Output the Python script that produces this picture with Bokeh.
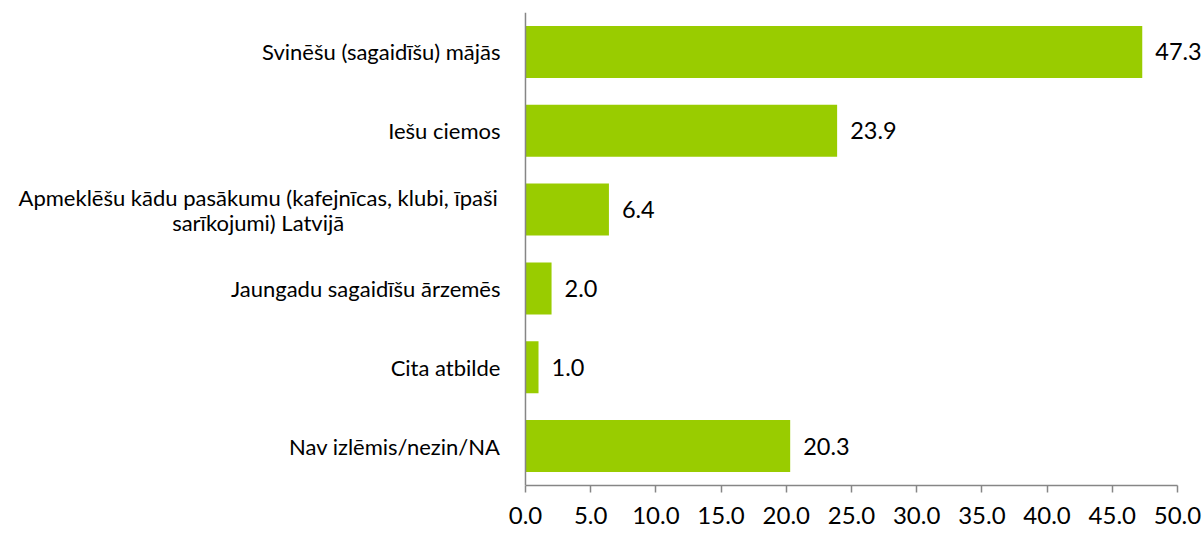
from bokeh.plotting import figure
from bokeh.models import ColumnDataSource, FactorRange, Range1d, FixedTicker, CustomJSTickFormatter, Span
from bokeh.core.properties import value
from bokeh.embed import file_html
from bokeh.resources import INLINE

categories = [
    "Svinēšu (sagaidīšu) mājās",
    "Iešu ciemos",
    "Apmeklēšu kādu pasākumu (kafejnīcas, klubi, īpaši\nsarīkojumi) Latvijā",
    "Jaungadu sagaidīšu ārzemēs",
    "Cita atbilde",
    "Nav izlēmis/nezin/NA",
]
values = [47.3, 23.9, 6.4, 2.0, 1.0, 20.3]
x_ticks = [0, 5, 10, 15, 20, 25, 30, 35, 40, 45, 50]

FONT = "Lato"
GREEN = "#99CC00"
AXIS = "#868686"

src = ColumnDataSource(dict(
    cat=categories,
    val=values,
    lbl=[f"{v:.1f}" for v in values],
))

factors = list(reversed(categories))

# single-line category labels: right-aligned just left of the value axis
single = [c for c in categories if "\n" not in c]
single_src = ColumnDataSource(dict(cat=single, txt=single, x=[0] * len(single)))

# multi-line category labels: each line centred, stacked around the category
ml_cat, ml_txt, ml_off = [], [], []
for c in categories:
    if "\n" in c:
        lines = c.split("\n")
        n = len(lines)
        for i, ln in enumerate(lines):
            ml_cat.append(c)
            ml_txt.append(ln)
            ml_off.append((i - (n - 1) / 2) * 25)
multi_src = ColumnDataSource(dict(cat=ml_cat, txt=ml_txt, off=ml_off,
                                  x=[-20.5] * len(ml_cat)))

# whole canvas is the frame; value 0 sits at x~525, value 50 at x~1177
p = figure(
    width=1202, height=537,
    y_range=FactorRange(*factors),
    x_range=Range1d(-40.26, 51.92),
    output_backend="svg", toolbar_location=None,
    min_border_left=0, min_border_right=0,
    min_border_top=12, min_border_bottom=52,
)
p.outline_line_color = None
p.grid.grid_line_color = None
p.background_fill_color = "white"
p.border_fill_color = "white"
p.yaxis.visible = False

p.add_layout(Span(location=0, dimension="height", line_color=AXIS, line_width=1.5))

p.hbar(y="cat", right="val", left=0, height=0.66, source=src,
       fill_color=GREEN, line_color=None)
p.text(x="val", y="cat", text="lbl", source=src, x_offset=13,
       text_align="left", text_baseline="middle",
       text_font=value(FONT), text_font_size="23.5px", text_color="#000000")

p.text(x="x", y="cat", text="txt", source=single_src, x_offset=-25,
       text_align="right", text_baseline="middle",
       text_font=value(FONT), text_font_size="22px", text_color="#000000")
p.text(x="x", y="cat", text="txt", source=multi_src, y_offset="off",
       text_align="center", text_baseline="middle",
       text_font=value(FONT), text_font_size="22px", text_color="#000000")

xa = p.xaxis[0]
xa.bounds = (0, 50)
xa.ticker = FixedTicker(ticks=x_ticks)
xa.formatter = CustomJSTickFormatter(code="return tick.toFixed(1);")
xa.axis_line_color = AXIS
xa.axis_line_width = 1.5
xa.major_tick_line_color = AXIS
xa.major_tick_line_width = 1.5
xa.major_tick_out = 7
xa.major_tick_in = 0
xa.minor_tick_line_color = None
xa.major_label_standoff = 14
xa.major_label_text_font = FONT
xa.major_label_text_font_size = "24px"
xa.major_label_text_color = "#000000"

open("out.html", "w").write(file_html(p, INLINE))
